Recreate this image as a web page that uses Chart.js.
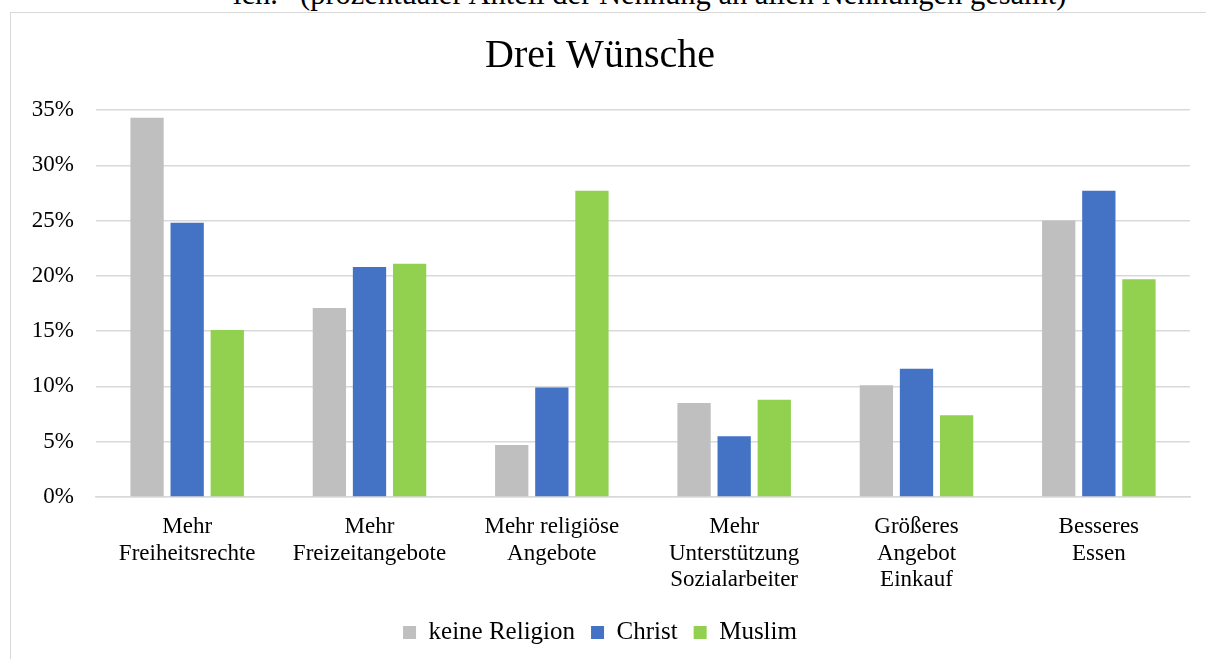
<!DOCTYPE html>
<html>
<head>
<meta charset="utf-8">
<script src="https://cdn.jsdelivr.net/npm/chart.js@4.4.1/dist/chart.umd.min.js"></script>
<style>
  html, body { margin: 0; padding: 0; background: #fff; overflow: hidden; }
  body { width: 1206px; height: 659px; position: relative; font-family: "Liberation Serif", serif; }
  .cap { position: absolute; top: -23px; font-size: 30.5px; color: #000; white-space: pre; }
  #frame { position: absolute; left: 10px; top: 12px; width: 1210px; height: 660px; border: 1.5px solid #d9d9d9; }
  #wrap { position: absolute; left: 0; top: 0; width: 1206px; height: 659px; }
</style>
</head>
<body>
<div class="cap" style="left:233px">ich.</div>
<div class="cap" style="left:300px">(prozentualer Anteil der Nennung an allen Nennungen gesamt)</div>
<div id="frame"></div>
<div id="wrap"><canvas id="chart"></canvas></div>
<script>
  // Data
  const categories = [
    ["Mehr", "Freiheitsrechte"],
    ["Mehr", "Freizeitangebote"],
    ["Mehr religiöse", "Angebote"],
    ["Mehr", "Unterstützung", "Sozialarbeiter"],
    ["Größeres", "Angebot", "Einkauf"],
    ["Besseres", "Essen"]
  ];
  const keineReligion = [34.3, 17.1, 4.7, 8.5, 10.1, 25.0];
  const christ = [24.8, 20.8, 9.9, 5.5, 11.6, 27.7];
  const muslim = [15.1, 21.1, 27.7, 8.8, 7.4, 19.7];
  const yTicks = [0, 5, 10, 15, 20, 25, 30, 35];

  const serif = "'Liberation Serif', serif";

  new Chart(document.getElementById("chart"), {
    type: "bar",
    data: {
      labels: categories,
      datasets: [
        { label: "keine Religion", data: keineReligion, backgroundColor: "#bfbfbf" },
        { label: "Christ", data: christ, backgroundColor: "#4472c4" },
        { label: "Muslim", data: muslim, backgroundColor: "#92d050" }
      ]
    },
    options: {
      responsive: true,
      maintainAspectRatio: false,
      animation: false,
      datasets: { bar: { categoryPercentage: 0.66, barPercentage: 0.83 } },
      layout: { padding: { left: 10, right: 16, top: 12, bottom: 4 } },
      plugins: {
        title: {
          display: true,
          text: "Drei Wünsche",
          color: "#000",
          font: { family: serif, size: 40, weight: "normal", lineHeight: 1.2 },
          padding: { top: 20, bottom: 30 }
        },
        legend: {
          position: "bottom",
          labels: {
            color: "#000",
            font: { family: serif, size: 25 },
            boxWidth: 13,
            boxHeight: 13,
            padding: 16
          }
        },
        tooltip: { enabled: false }
      },
      scales: {
        x: {
          grid: { display: false, drawTicks: false },
          border: { display: true, color: "#d9d9d9", width: 1.5 },
          ticks: {
            color: "#000",
            font: { family: serif, size: 23, lineHeight: 1.15 },
            padding: 17,
            maxRotation: 0,
            autoSkip: false
          },
          afterFit: (scale) => { scale.height = 107; }
        },
        y: {
          min: 0,
          max: 35,
          afterBuildTicks: (scale) => { scale.ticks = yTicks.map(v => ({ value: v })); },
          grid: { color: "#d9d9d9", lineWidth: 1.5, drawTicks: false },
          border: { display: false },
          ticks: {
            color: "#000",
            font: { family: serif, size: 23 },
            padding: 22,
            callback: (v) => v + "%"
          },
          afterFit: (scale) => { scale.width = 86; }
        }
      }
    }
  });
</script>
</body>
</html>
